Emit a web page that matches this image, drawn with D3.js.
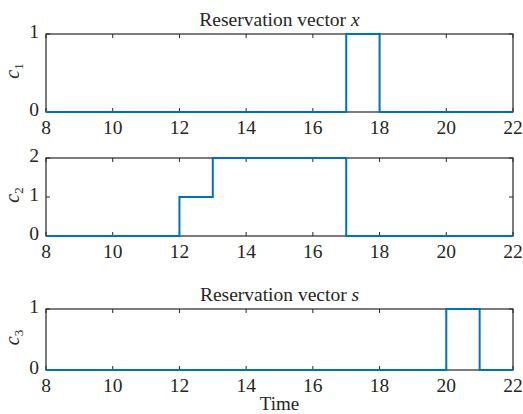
<!DOCTYPE html>
<html>
<head>
<meta charset="utf-8">
<script src="https://cdn.jsdelivr.net/npm/d3@7"></script>
<style>
  body { margin: 0; background: #fff; }
</style>
</head>
<body>
<div id="chart"></div>
<script>
// hourly time grid and reservation values (step after)
const hours = [8, 9, 10, 11, 12, 13, 14, 15, 16, 17, 18, 19, 20, 21, 22];
const c1 = [0, 0, 0, 0, 0, 0, 0, 0, 0, 1, 0, 0, 0, 0, 0];
const c2 = [0, 0, 0, 0, 1, 2, 2, 2, 2, 0, 0, 0, 0, 0, 0];
const c3 = [0, 0, 0, 0, 0, 0, 0, 0, 0, 0, 0, 0, 1, 0, 0];
const xTicks = [8, 10, 12, 14, 16, 18, 20, 22];
const titles = ["x", null, "s"];
const yMax = [1, 2, 1];

const WIDTH = 523;
const HEIGHT = 414;
const LEFT = 46;
const RIGHT = 513;
const AXIS = "#262626";
const FONT = "'Liberation Serif', 'Times New Roman', 'DejaVu Serif', serif";

const SVG = d3.select("#chart").append("svg")
  .attr("width", WIDTH)
  .attr("height", HEIGHT)
  .attr("font-family", FONT);

const x = d3.scaleLinear().domain([8, 22]).range([LEFT, RIGHT]);

// panel placement
const panels = [
  { top: 34, h: 78 },
  { top: 158, h: 78 },
  { top: 309, h: 61 },
];

const series = [c1, c2, c3];

panels.forEach((p, i) => {
  const y = d3.scaleLinear().domain([0, yMax[i]]).range([p.top + p.h, p.top]);
  const g = SVG.append("g");

  // x ticks (inside, top and bottom)
  xTicks.forEach(t => {
    g.append("line")
      .attr("x1", x(t)).attr("x2", x(t))
      .attr("y1", p.top + p.h).attr("y2", p.top + p.h - 4)
      .attr("stroke", AXIS);
    g.append("line")
      .attr("x1", x(t)).attr("x2", x(t))
      .attr("y1", p.top).attr("y2", p.top + 4)
      .attr("stroke", AXIS);
    g.append("text")
      .attr("x", x(t)).attr("y", p.top + p.h + 22)
      .attr("text-anchor", "middle")
      .attr("fill", AXIS)
      .style("font-size", "19.5px")
      .text(t);
  });

  // y ticks (left and right, inside)
  d3.range(0, yMax[i] + 1).forEach(v => {
    g.append("line")
      .attr("x1", LEFT).attr("x2", LEFT + 4)
      .attr("y1", y(v)).attr("y2", y(v))
      .attr("stroke", AXIS);
    g.append("line")
      .attr("x1", RIGHT).attr("x2", RIGHT - 4)
      .attr("y1", y(v)).attr("y2", y(v))
      .attr("stroke", AXIS);
    g.append("text")
      .attr("x", LEFT - 7).attr("y", y(v))
      .attr("dy", "0.22em")
      .attr("text-anchor", "end")
      .attr("fill", AXIS)
      .style("font-size", "19.5px")
      .text(v);
  });

  // box
  g.append("rect")
    .attr("x", LEFT).attr("y", p.top)
    .attr("width", RIGHT - LEFT).attr("height", p.h)
    .attr("fill", "none").attr("stroke", AXIS).attr("stroke-width", 1.2);

  // y label c_i
  const lab = g.append("text")
    .attr("transform", `translate(19, ${p.top + p.h / 2 - 2}) rotate(-90)`)
    .attr("text-anchor", "middle")
    .attr("fill", AXIS)
    .style("font-size", "20px");
  lab.append("tspan").style("font-style", "italic").text("c");
  lab.append("tspan").attr("dy", 4).style("font-size", "13px").text(i + 1);

  // title
  if (titles[i]) {
    const tt = g.append("text")
      .attr("x", (LEFT + RIGHT) / 2).attr("y", p.top - 8)
      .attr("text-anchor", "middle")
      .attr("fill", AXIS)
      .style("font-size", "19.5px");
    tt.append("tspan").text("Reservation vector ");
    tt.append("tspan").style("font-style", "italic").text(titles[i]);
  }

  // step line
  const line = d3.line()
    .x((d, j) => x(hours[j]))
    .y(d => y(d))
    .curve(d3.curveStepAfter);

  g.append("path")
    .datum(series[i])
    .attr("d", line)
    .attr("fill", "none")
    .attr("stroke", "#0072BD")
    .attr("stroke-width", 2);
});

// x label
SVG.append("text")
  .attr("x", (LEFT + RIGHT) / 2).attr("y", 410)
  .attr("text-anchor", "middle")
  .attr("fill", AXIS)
  .style("font-size", "19px")
  .text("Time");
</script>
</body>
</html>
